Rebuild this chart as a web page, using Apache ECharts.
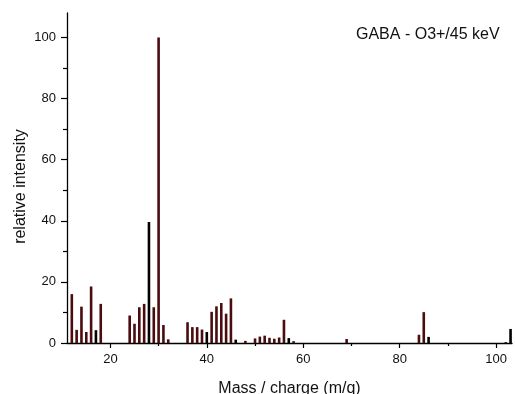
<!DOCTYPE html>
<html>
<head>
<meta charset="utf-8">
<script src="https://cdn.jsdelivr.net/npm/echarts@6/dist/echarts.min.js"></script>
<style>
  html, body { margin: 0; padding: 0; background: #fff; }
  #chart { width: 515px; height: 394px; }
</style>
</head>
<body>
<div id="chart"></div>
<script>
// mass / charge of each peak
const masses = [12, 13, 14, 15, 16, 17, 18, 24, 25, 26, 27, 28, 29, 30, 31, 32,
  36, 37, 38, 39, 40, 41, 42, 43, 44, 45, 46, 48, 50, 51, 52, 53, 54, 55, 56, 57, 58,
  69, 84, 85, 86, 102, 103];
// relative intensity (%)
const intensities = [16.0, 4.3, 11.9, 3.6, 18.5, 4.2, 12.8, 9.0, 6.3, 11.7, 12.8, 39.6, 11.7, 100, 5.9, 1.2,
  6.8, 5.2, 5.2, 4.4, 3.6, 10.2, 12.0, 13.1, 9.6, 14.6, 1.1, 0.7, 1.5, 2.1, 2.4, 1.7, 1.4, 1.8, 7.6, 1.6, 0.6,
  1.3, 2.7, 10.1, 2.0, 0.3, 4.6];
// peaks drawn in black instead of dark red
const blackMasses = [17, 28, 40, 46, 57, 86, 103];

const xMajor = [20, 40, 60, 80, 100];
const xMinor = [30, 50, 70, 90];
const yMajor = [0, 20, 40, 60, 80, 100];
const yMinor = [10, 30, 50, 70, 90];

const FONT = "Liberation Sans, Arial, sans-serif";
const chart = echarts.init(document.getElementById("chart"), null, { renderer: "canvas" });

const peaks = masses.map((m, i) => [m, intensities[i]]);

const baseX = { type: "value", min: 11, max: 103.3, position: "bottom", splitLine: { show: false } };
const baseY = { type: "value", min: 0, max: 108, position: "left", splitLine: { show: false } };

chart.setOption({
  animation: false,
  grid: { left: 67, right: 3, top: 13, bottom: 51, outerBoundsMode: "none" },
  xAxis: [
    {
      ...baseX,
      name: "Mass / charge (m/q)",
      nameLocation: "middle",
      nameGap: 38,
      nameMoveOverlap: false,
      nameTextStyle: { fontFamily: FONT, fontSize: 16, color: "#111", verticalAlign: "top" },
      axisLine: { onZero: false, lineStyle: { color: "#000", width: 1.3 } },
      axisTick: { customValues: xMajor, length: 5, lineStyle: { color: "#000", width: 1.2 } },
      axisLabel: { customValues: xMajor, margin: 10, fontFamily: FONT, fontSize: 13, color: "#111" },
    },
    {
      // minor ticks only
      ...baseX,
      axisLine: { show: false, onZero: false },
      axisTick: { customValues: xMinor, length: 3, lineStyle: { color: "#000", width: 1.2 } },
      axisLabel: { show: false },
    },
  ],
  yAxis: [
    {
      ...baseY,
      name: "relative intensity",
      nameLocation: "middle",
      nameGap: 38,
      nameMoveOverlap: false,
      nameTextStyle: { fontFamily: FONT, fontSize: 16, color: "#111", padding: [0, 0, 0, -17] },
      axisLine: { show: true, onZero: false, lineStyle: { color: "#000", width: 1.3 } },
      axisTick: { show: true, customValues: yMajor, length: 6, lineStyle: { color: "#000", width: 1.2 } },
      axisLabel: { customValues: yMajor, margin: 11, fontFamily: FONT, fontSize: 13, color: "#111" },
    },
    {
      ...baseY,
      axisLine: { show: false, onZero: false },
      axisTick: { show: true, customValues: yMinor, length: 4, lineStyle: { color: "#000", width: 1.2 } },
      axisLabel: { show: false },
    },
  ],
  graphic: [
    {
      type: "text",
      left: 356,
      top: 27,
      style: { text: "GABA - O3+/45 keV", font: "16px " + FONT, fill: "#111" },
    },
  ],
  series: [
    {
      type: "bar",
      data: peaks,
      barWidth: 2.6,
      itemStyle: {
        color: (p) => (blackMasses.includes(p.data[0]) ? "#000" : "#4a0c0e"),
      },
    },
  ],
});
</script>
</body>
</html>
